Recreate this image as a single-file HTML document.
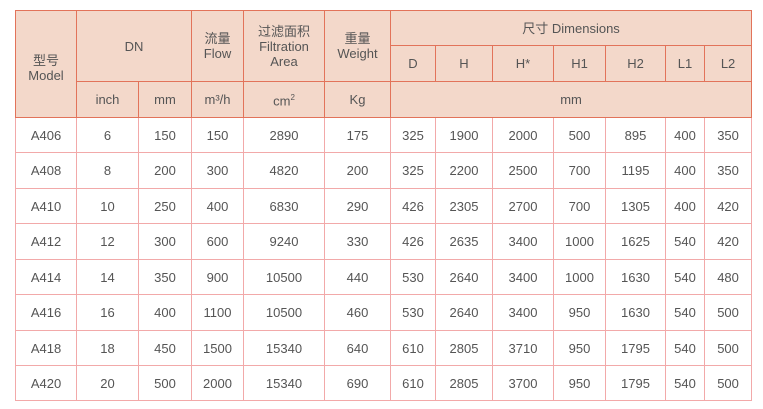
<!DOCTYPE html>
<html><head><meta charset="utf-8"><style>
html,body{margin:0;padding:0;background:#fff;width:763px;height:409px;overflow:hidden}
table{position:absolute;left:15px;top:10px;border-collapse:collapse;table-layout:fixed;width:736px;
font-family:"Liberation Sans","Noto Sans CJK SC",sans-serif;font-size:13px;color:#555;text-align:center}
td{padding:0;border:1px solid #f2a9a9;line-height:15px}
thead td{background:#f3d8ca;border-color:#e2735a}
tbody tr:first-child td{border-top:1px solid #e2735a}
</style></head><body>
<table>
<colgroup><col style="width:61px"><col style="width:62px"><col style="width:53px"><col style="width:52px"><col style="width:81px"><col style="width:66px"><col style="width:45px"><col style="width:57px"><col style="width:61px"><col style="width:52px"><col style="width:60px"><col style="width:39px"><col style="width:47px"></colgroup>
<thead>
<tr style="height:35px"><td rowspan="3" style="padding-top:8px">型号<br>Model</td><td colspan="2" rowspan="2">DN</td><td rowspan="2">流量<br>Flow</td><td rowspan="2">过滤面积<br>Filtration<br>Area</td><td rowspan="2">重量<br>Weight</td><td colspan="7">尺寸 Dimensions</td></tr>
<tr style="height:36px"><td>D</td><td>H</td><td>H*</td><td>H1</td><td>H2</td><td>L1</td><td>L2</td></tr>
<tr style="height:36px"><td>inch</td><td>mm</td><td>m³/h</td><td>cm<sup style="font-size:8px">2</sup></td><td>Kg</td><td colspan="7">mm</td></tr>
</thead>
<tbody>
<tr style="height:35px"><td>A406</td><td>6</td><td>150</td><td>150</td><td>2890</td><td>175</td><td>325</td><td>1900</td><td>2000</td><td>500</td><td>895</td><td>400</td><td>350</td></tr>
<tr style="height:36px"><td>A408</td><td>8</td><td>200</td><td>300</td><td>4820</td><td>200</td><td>325</td><td>2200</td><td>2500</td><td>700</td><td>1195</td><td>400</td><td>350</td></tr>
<tr style="height:35px"><td>A410</td><td>10</td><td>250</td><td>400</td><td>6830</td><td>290</td><td>426</td><td>2305</td><td>2700</td><td>700</td><td>1305</td><td>400</td><td>420</td></tr>
<tr style="height:36px"><td>A412</td><td>12</td><td>300</td><td>600</td><td>9240</td><td>330</td><td>426</td><td>2635</td><td>3400</td><td>1000</td><td>1625</td><td>540</td><td>420</td></tr>
<tr style="height:35px"><td>A414</td><td>14</td><td>350</td><td>900</td><td>10500</td><td>440</td><td>530</td><td>2640</td><td>3400</td><td>1000</td><td>1630</td><td>540</td><td>480</td></tr>
<tr style="height:36px"><td>A416</td><td>16</td><td>400</td><td>1100</td><td>10500</td><td>460</td><td>530</td><td>2640</td><td>3400</td><td>950</td><td>1630</td><td>540</td><td>500</td></tr>
<tr style="height:35px"><td>A418</td><td>18</td><td>450</td><td>1500</td><td>15340</td><td>640</td><td>610</td><td>2805</td><td>3710</td><td>950</td><td>1795</td><td>540</td><td>500</td></tr>
<tr style="height:35px"><td>A420</td><td>20</td><td>500</td><td>2000</td><td>15340</td><td>690</td><td>610</td><td>2805</td><td>3700</td><td>950</td><td>1795</td><td>540</td><td>500</td></tr>
</tbody></table>
</body></html>
